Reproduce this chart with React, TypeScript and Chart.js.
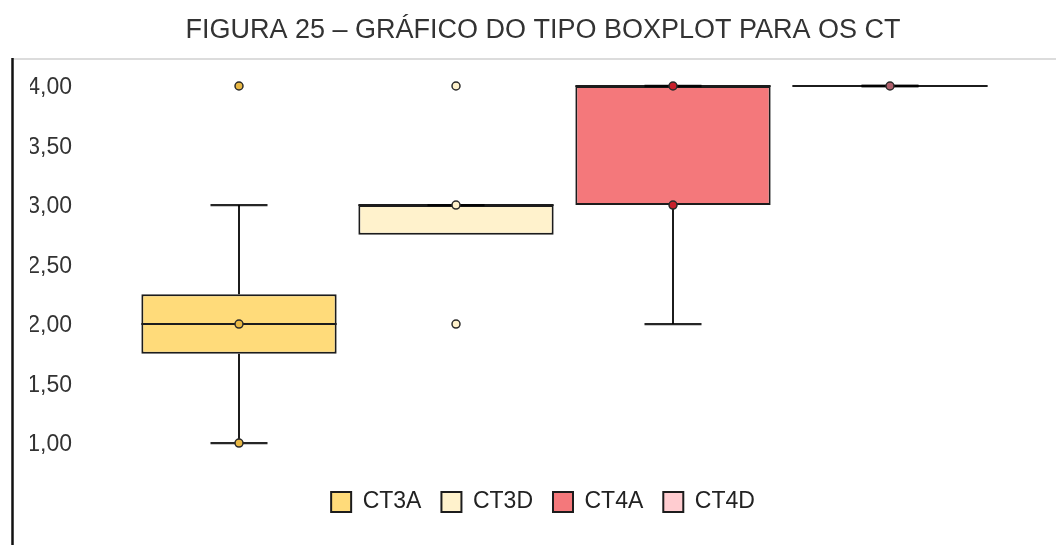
import React, { useEffect, useRef } from 'react';
import { Chart, registerables } from 'chart.js';

Chart.register(...registerables);

const chartTitle = 'FIGURA 25 – GRÁFICO DO TIPO BOXPLOT PARA OS CT';
const categories = ['CT3A', 'CT3D', 'CT4A', 'CT4D'];
const q1Values = [1.75, 2.75, 3.0, 4.0];
const q3Values = [2.25, 3.0, 4.0, 4.0];
const medianValues = [2.0, 3.0, 4.0, 4.0];
const whiskerLowValues: (number | null)[] = [1.0, null, 2.0, 4.0];
const whiskerHighValues: (number | null)[] = [3.0, 3.0, 4.0, 4.0];
const pointsCT3A = [4.0, 2.0, 1.0];
const pointsCT3D = [4.0, 3.0, 2.0];
const pointsCT4A = [4.0, 3.0];
const pointsCT4D = [4.0];
const pointSeries = [pointsCT3A, pointsCT3D, pointsCT4A, pointsCT4D];
const yTickValues = [1.0, 1.5, 2.0, 2.5, 3.0, 3.5, 4.0];

const boxColors = ['#FFDB7A', '#FFF2CC', '#F4787B', '#FFCCD0'];
const pointColors = ['#E9B844', '#FFF2CC', '#C8202C', '#B0606C'];
const lineColor = '#1c1c1c';
const FONT = "'Liberation Sans', Arial, sans-serif";

const decorPlugin = {
  id: 'decor',
  beforeDraw(chart: any) {
    const ctx = chart.ctx;
    ctx.save();
    ctx.fillStyle = '#ffffff';
    ctx.fillRect(0, 0, chart.width, chart.height);
    ctx.strokeStyle = '#dcdcdc';
    ctx.lineWidth = 2;
    ctx.beginPath();
    ctx.moveTo(12, 59);
    ctx.lineTo(chart.width, 59);
    ctx.stroke();
    ctx.strokeStyle = '#111111';
    ctx.lineWidth = 2.5;
    ctx.beginPath();
    ctx.moveTo(12.5, 58);
    ctx.lineTo(12.5, chart.height);
    ctx.stroke();
    ctx.restore();
  },
};

const whiskerPlugin = {
  id: 'whiskers',
  afterDatasetDraw(chart: any, args: any) {
    const ds = chart.data.datasets[args.index];
    if (ds.type !== 'bar') return;
    const i = ds.catIndex;
    const el = args.meta.data[i];
    if (!el) return;
    const ys = chart.scales.y;
    const ctx = chart.ctx;
    const xc = el.x;
    const half = el.width / 2;
    const capHalf = el.width * 0.146;
    const seg = (x1: number, y1: number, x2: number, y2: number) => {
      ctx.beginPath();
      ctx.moveTo(x1, y1);
      ctx.lineTo(x2, y2);
      ctx.stroke();
    };
    ctx.save();
    const yQ1 = ys.getPixelForValue(q1Values[i]);
    const yQ3 = ys.getPixelForValue(q3Values[i]);
    const yMed = ys.getPixelForValue(medianValues[i]);
    const lo = whiskerLowValues[i];
    const hi = whiskerHighValues[i];
    ctx.strokeStyle = lineColor;
    ctx.lineWidth = 2;
    if (hi !== null) seg(xc, yQ3, xc, ys.getPixelForValue(hi));
    if (lo !== null) seg(xc, yQ1, xc, ys.getPixelForValue(lo));
    seg(xc - half, yMed, xc + half, yMed);
    ctx.strokeStyle = 'rgba(0,0,0,0.85)';
    ctx.lineWidth = 2.3;
    if (hi !== null) {
      const y = ys.getPixelForValue(hi);
      seg(xc - capHalf, y, xc + capHalf, y);
    }
    if (lo !== null) {
      const y = ys.getPixelForValue(lo);
      seg(xc - capHalf, y, xc + capHalf, y);
    }
    ctx.restore();
  },
};

export default function App() {
  const ref = useRef<HTMLCanvasElement | null>(null);

  useEffect(() => {
    if (!ref.current) return;
    const boxDatasets = categories.map((name, i) => ({
      type: 'bar' as const,
      label: name,
      catIndex: i,
      data: categories.map((_, j) => (j === i ? [q1Values[i], q3Values[i]] : null)),
      backgroundColor: boxColors[i],
      borderColor: lineColor,
      borderWidth: 2,
      borderSkipped: false,
      grouped: false,
      barPercentage: 0.9,
      categoryPercentage: 1.0,
      order: 1,
    }));
    const pointDatasets = pointSeries.map((pts, i) => ({
      type: 'line' as const,
      label: categories[i] + ' pontos',
      data: pts.map((v) => ({ x: categories[i], y: v })),
      showLine: false,
      pointRadius: 4,
      pointBorderWidth: 1.5,
      pointBackgroundColor: pointColors[i],
      pointBorderColor: '#2a2a2a',
      order: -1,
    }));

    const chart = new Chart(ref.current, {
      type: 'bar',
      data: { labels: categories, datasets: [...boxDatasets, ...pointDatasets] as any },
      plugins: [decorPlugin, whiskerPlugin],
      options: {
        animation: false,
        responsive: false,
        maintainAspectRatio: false,
        layout: { padding: { left: 30, right: 0, top: 0, bottom: 21.5 } },
        plugins: {
          title: {
            display: true,
            text: chartTitle,
            color: '#333333',
            font: { family: FONT, size: 27, weight: 'normal' },
            padding: { top: 14.8, bottom: 26.9 },
          },
          legend: {
            display: true,
            position: 'bottom',
            labels: {
              filter: (item: any, data: any) => data.datasets[item.datasetIndex].type === 'bar',
              boxWidth: 20,
              boxHeight: 20,
              padding: 20,
              color: '#222222',
              font: { family: FONT, size: 23 },
            },
          },
          tooltip: { enabled: false },
        },
        scales: {
          x: {
            type: 'category',
            display: false,
            offset: true,
          },
          y: {
            position: 'left',
            min: 0.77,
            max: 4.1,
            grid: { display: false, drawTicks: false },
            border: { display: false },
            afterBuildTicks: (axis: any) => {
              axis.ticks = yTickValues.map((v) => ({ value: v }));
            },
            afterFit: (axis: any) => {
              axis.width = 100.5;
            },
            ticks: {
              padding: 58.5,
              labelOffset: 2,
              color: '#333333',
              font: { family: FONT, size: 23 },
              callback: (v: any) => Number(v).toFixed(2).replace('.', ','),
            },
          },
          yRightSpace: {
            position: 'right',
            display: true,
            grid: { display: false, drawTicks: false },
            border: { display: false },
            ticks: { display: false },
            afterFit: (axis: any) => {
              axis.width = 57.5;
            },
          },
        },
      } as any,
    });
    return () => chart.destroy();
  }, []);

  return (
    <div style={{ position: 'fixed', left: 0, top: 0, width: 1056, height: 545, background: '#fff' }}>
      <canvas ref={ref} width={1056} height={545} style={{ display: 'block' }} />
    </div>
  );
}
